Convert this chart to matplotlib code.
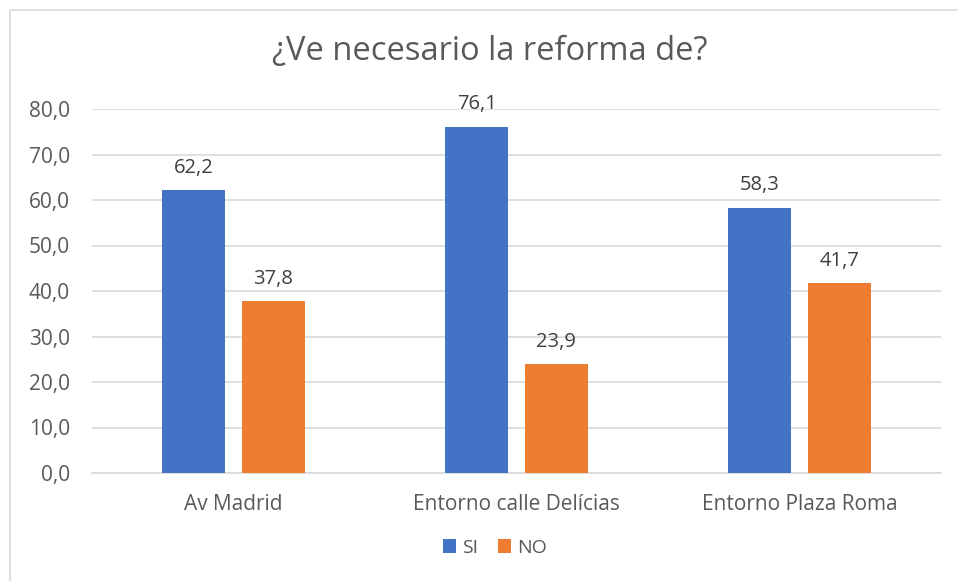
import numpy as np
import matplotlib.pyplot as plt
from matplotlib.patches import Rectangle

# data
categories = ['Av Madrid', 'Entorno calle Delícias', 'Entorno Plaza Roma']
si_values = [62.2, 76.1, 58.3]
no_values = [37.8, 23.9, 41.7]

blue = '#4472C4'
orange = '#ED7D31'
text_color = '#595959'

plt.rcParams['font.family'] = ['Open Sans', 'DejaVu Sans']

fig = plt.figure(figsize=(9.58, 5.81), dpi=100)
ax = fig.add_axes([92 / 958, 1 - 473 / 581, 849 / 958, 364 / 581])

# outer chart border
fig.patches.append(Rectangle((10 / 958, -0.1), 1.0, 1 - 10 / 581 + 0.1,
                             transform=fig.transFigure, fill=False,
                             edgecolor='#d9d9d9', linewidth=1.2))

bar_width = 0.223
offset = 0.141
x = np.arange(len(categories))

b1 = ax.bar(x - offset, si_values, width=bar_width, color=blue, label='SI', zorder=3)
b2 = ax.bar(x + offset, no_values, width=bar_width, color=orange, label='NO', zorder=3)

for bars in (b1, b2):
    for rect in bars:
        h = rect.get_height()
        ax.text(rect.get_x() + rect.get_width() / 2, h + 3.8, f'{h:.1f}'.replace('.', ','),
                ha='center', va='baseline', fontsize=14.5, color='#404040')

ax.set_xlim(-0.5, 2.5)
ax.set_ylim(0, 80)
ax.set_yticks(np.arange(0, 81, 10))
ax.set_yticklabels([f'{v:.1f}'.replace('.', ',') for v in np.arange(0, 81, 10)])
ax.set_xticks(x)
ax.set_xticklabels(categories)
ax.tick_params(axis='both', length=0, labelsize=15, labelcolor=text_color)
ax.tick_params(axis='y', pad=16)
ax.tick_params(axis='x', pad=15)

ax.yaxis.grid(True, color='#d9d9d9', linewidth=1.2, zorder=0)
for side in ['top', 'right', 'left']:
    ax.spines[side].set_visible(False)
ax.spines['bottom'].set_color('#d9d9d9')
ax.spines['bottom'].set_linewidth(1.2)

fig.text(490 / 958, 1 - 52 / 581, '¿Ve necesario la reforma de?', ha='center', va='center',
         fontsize=23.5, color=text_color)

fig.legend(handles=[b1, b2], loc='center', bbox_to_anchor=(495 / 958, 1 - 548 / 581),
           ncol=2, frameon=False, fontsize=14, labelcolor=text_color,
           handlelength=0.7, handleheight=0.7, handletextpad=0.3, columnspacing=1.0)

fig.savefig('out.png', dpi=100)
